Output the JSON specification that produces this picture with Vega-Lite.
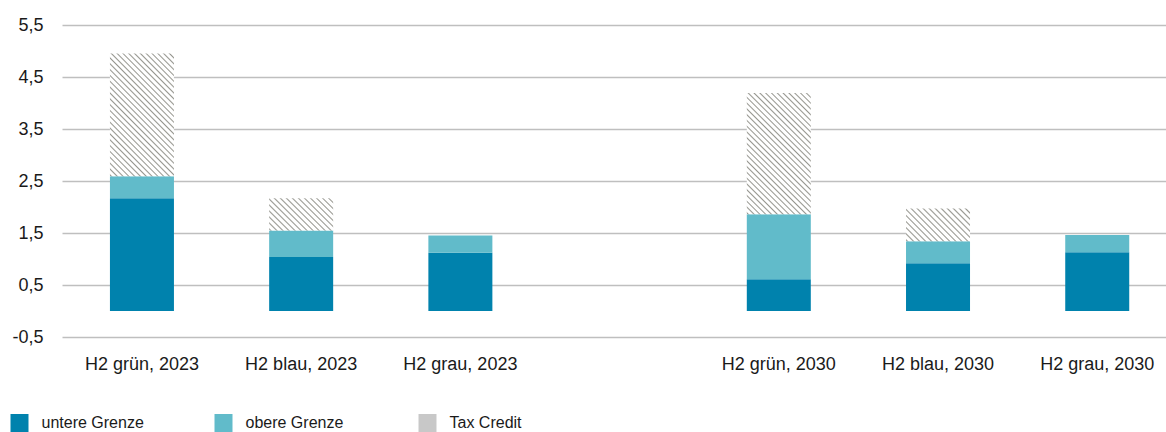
{
  "$schema": "https://vega.github.io/schema/vega-lite/v6.json",
  "autosize": {"type": "none"},
  "padding": {"left": 62, "top": 25, "right": 0, "bottom": 95},
  "width": 1104,
  "height": 312,
  "config": {
    "font": "Liberation Sans",
    "view": {"stroke": null},
    "legend": {"padding": 0, "offset": 0}
  },
  "data": {
    "values": [
      {"kategorie": "H2 grün, 2023", "untere": 2.17, "obere": 2.59, "gesamt": 4.95},
      {"kategorie": "H2 blau, 2023", "untere": 1.04, "obere": 1.55, "gesamt": 2.17},
      {"kategorie": "H2 grau, 2023", "untere": 1.12, "obere": 1.45, "gesamt": null},
      {"kategorie": "H2 grün, 2030", "untere": 0.61, "obere": 1.86, "gesamt": 4.19},
      {"kategorie": "H2 blau, 2030", "untere": 0.92, "obere": 1.34, "gesamt": 1.97},
      {"kategorie": "H2 grau, 2030", "untere": 1.13, "obere": 1.46, "gesamt": null}
    ]
  },
  "encoding": {
    "x": {
      "field": "kategorie",
      "type": "nominal",
      "sort": null,
      "scale": {
        "domain": ["H2 grün, 2023", "H2 blau, 2023", "H2 grau, 2023", " ", "H2 grün, 2030", "H2 blau, 2030", "H2 grau, 2030"],
        "paddingInner": 0.598,
        "paddingOuter": 0.266,
        "align": 0.566
      },
      "axis": {
        "title": null,
        "labelAngle": 0,
        "labelFontSize": 18,
        "labelColor": "#1a1a1a",
        "labelPadding": 18,
        "ticks": false,
        "domain": false,
        "grid": false
      }
    }
  },
  "layer": [
    {
      "mark": {"type": "bar"},
      "encoding": {
        "y": {
          "field": "untere",
          "type": "quantitative",
          "scale": {"domain": [-0.5, 5.5], "nice": false, "zero": false},
          "axis": {
            "title": null,
            "values": [-0.5, 0.5, 1.5, 2.5, 3.5, 4.5, 5.5],
            "labelExpr": "(datum.value < 0 ? '-' : '') + replace(format(abs(datum.value), '.1f'), '.', ',')",
            "labelFontSize": 18,
            "labelColor": "#1a1a1a",
            "labelPadding": 19,
            "ticks": false,
            "domain": false,
            "grid": true,
            "gridColor": "#bfbfbf",
            "gridWidth": 1.5
          }
        },
        "y2": {"datum": 0},
        "color": {
          "datum": "untere Grenze",
          "type": "nominal",
          "scale": {
            "domain": ["untere Grenze", "obere Grenze", "Tax Credit"],
            "range": ["#0082ad", "#61bbca", "#c8c8c8"]
          },
          "legend": {
            "title": null,
            "orient": "none",
            "direction": "horizontal",
            "legendX": -51.5,
            "legendY": 389,
            "symbolType": "square",
            "symbolSize": 324,
            "symbolStrokeWidth": 0,
            "labelFont": "Liberation Sans",
            "labelFontSize": 16,
            "labelColor": "#1a1a1a",
            "labelOffset": 13,
            "gridAlign": "all",
            "columnPadding": 70,
            "encode": {
              "symbols": {
                "update": {
                  "fill": [
                    {
                      "test": "datum.label === 'Tax Credit'",
                      "value": {
                        "gradient": "linear", "x1": 0, "y1": 1, "x2": 1, "y2": 0,
                        "stops": [
                          {"offset": 0, "color": "#ffffff"}, {"offset": 0.05, "color": "#a8a8a8"}, {"offset": 0.1, "color": "#ffffff"},
                          {"offset": 0.2, "color": "#ffffff"}, {"offset": 0.25, "color": "#a8a8a8"}, {"offset": 0.3, "color": "#ffffff"},
                          {"offset": 0.4, "color": "#ffffff"}, {"offset": 0.45, "color": "#a8a8a8"}, {"offset": 0.5, "color": "#ffffff"},
                          {"offset": 0.6, "color": "#ffffff"}, {"offset": 0.65, "color": "#a8a8a8"}, {"offset": 0.7, "color": "#ffffff"},
                          {"offset": 0.8, "color": "#ffffff"}, {"offset": 0.85, "color": "#a8a8a8"}, {"offset": 0.9, "color": "#ffffff"},
                          {"offset": 1, "color": "#ffffff"}
                        ]
                      }
                    },
                    {"scale": "color", "field": "value"}
                  ]
                }
              }
            }
          }
        }
      }
    },
    {
      "mark": {"type": "bar"},
      "encoding": {
        "y": {"field": "obere", "type": "quantitative"},
        "y2": {"field": "untere"},
        "color": {"datum": "obere Grenze", "type": "nominal"}
      }
    },
    {
      "mark": {"type": "bar"},
      "encoding": {
        "y": {"field": "gesamt", "type": "quantitative"},
        "y2": {"field": "obere"},
        "color": {
          "datum": "Tax Credit",
          "type": "nominal",
          "condition": [
            {
              "test": "datum.gesamt - datum.obere > 1",
              "value": {
                "gradient": "linear", "x1": 0, "y1": 1, "x2": 0.6276, "y2": -0.1955,
                "stops": [
                  {"offset": 0, "color": "#ffffff"}, {"offset": 0.0078, "color": "#96968f"}, {"offset": 0.0156, "color": "#ffffff"},
                  {"offset": 0.0313, "color": "#ffffff"}, {"offset": 0.0391, "color": "#96968f"}, {"offset": 0.0469, "color": "#ffffff"},
                  {"offset": 0.0625, "color": "#ffffff"}, {"offset": 0.0703, "color": "#96968f"}, {"offset": 0.0781, "color": "#ffffff"},
                  {"offset": 0.0938, "color": "#ffffff"}, {"offset": 0.1016, "color": "#96968f"}, {"offset": 0.1094, "color": "#ffffff"},
                  {"offset": 0.125, "color": "#ffffff"}, {"offset": 0.1328, "color": "#96968f"}, {"offset": 0.1406, "color": "#ffffff"},
                  {"offset": 0.1563, "color": "#ffffff"}, {"offset": 0.1641, "color": "#96968f"}, {"offset": 0.1719, "color": "#ffffff"},
                  {"offset": 0.1875, "color": "#ffffff"}, {"offset": 0.1953, "color": "#96968f"}, {"offset": 0.2031, "color": "#ffffff"},
                  {"offset": 0.2188, "color": "#ffffff"}, {"offset": 0.2266, "color": "#96968f"}, {"offset": 0.2344, "color": "#ffffff"},
                  {"offset": 0.25, "color": "#ffffff"}, {"offset": 0.2578, "color": "#96968f"}, {"offset": 0.2656, "color": "#ffffff"},
                  {"offset": 0.2813, "color": "#ffffff"}, {"offset": 0.2891, "color": "#96968f"}, {"offset": 0.2969, "color": "#ffffff"},
                  {"offset": 0.3125, "color": "#ffffff"}, {"offset": 0.3203, "color": "#96968f"}, {"offset": 0.3281, "color": "#ffffff"},
                  {"offset": 0.3438, "color": "#ffffff"}, {"offset": 0.3516, "color": "#96968f"}, {"offset": 0.3594, "color": "#ffffff"},
                  {"offset": 0.375, "color": "#ffffff"}, {"offset": 0.3828, "color": "#96968f"}, {"offset": 0.3906, "color": "#ffffff"},
                  {"offset": 0.4063, "color": "#ffffff"}, {"offset": 0.4141, "color": "#96968f"}, {"offset": 0.4219, "color": "#ffffff"},
                  {"offset": 0.4375, "color": "#ffffff"}, {"offset": 0.4453, "color": "#96968f"}, {"offset": 0.4531, "color": "#ffffff"},
                  {"offset": 0.4688, "color": "#ffffff"}, {"offset": 0.4766, "color": "#96968f"}, {"offset": 0.4844, "color": "#ffffff"},
                  {"offset": 0.5, "color": "#ffffff"}, {"offset": 0.5078, "color": "#96968f"}, {"offset": 0.5156, "color": "#ffffff"},
                  {"offset": 0.5313, "color": "#ffffff"}, {"offset": 0.5391, "color": "#96968f"}, {"offset": 0.5469, "color": "#ffffff"},
                  {"offset": 0.5625, "color": "#ffffff"}, {"offset": 0.5703, "color": "#96968f"}, {"offset": 0.5781, "color": "#ffffff"},
                  {"offset": 0.5938, "color": "#ffffff"}, {"offset": 0.6016, "color": "#96968f"}, {"offset": 0.6094, "color": "#ffffff"},
                  {"offset": 0.625, "color": "#ffffff"}, {"offset": 0.6328, "color": "#96968f"}, {"offset": 0.6406, "color": "#ffffff"},
                  {"offset": 0.6563, "color": "#ffffff"}, {"offset": 0.6641, "color": "#96968f"}, {"offset": 0.6719, "color": "#ffffff"},
                  {"offset": 0.6875, "color": "#ffffff"}, {"offset": 0.6953, "color": "#96968f"}, {"offset": 0.7031, "color": "#ffffff"},
                  {"offset": 0.7188, "color": "#ffffff"}, {"offset": 0.7266, "color": "#96968f"}, {"offset": 0.7344, "color": "#ffffff"},
                  {"offset": 0.75, "color": "#ffffff"}, {"offset": 0.7578, "color": "#96968f"}, {"offset": 0.7656, "color": "#ffffff"},
                  {"offset": 0.7813, "color": "#ffffff"}, {"offset": 0.7891, "color": "#96968f"}, {"offset": 0.7969, "color": "#ffffff"},
                  {"offset": 0.8125, "color": "#ffffff"}, {"offset": 0.8203, "color": "#96968f"}, {"offset": 0.8281, "color": "#ffffff"},
                  {"offset": 0.8438, "color": "#ffffff"}, {"offset": 0.8516, "color": "#96968f"}, {"offset": 0.8594, "color": "#ffffff"},
                  {"offset": 0.875, "color": "#ffffff"}, {"offset": 0.8828, "color": "#96968f"}, {"offset": 0.8906, "color": "#ffffff"},
                  {"offset": 0.9063, "color": "#ffffff"}, {"offset": 0.9141, "color": "#96968f"}, {"offset": 0.9219, "color": "#ffffff"},
                  {"offset": 0.9375, "color": "#ffffff"}, {"offset": 0.9453, "color": "#96968f"}, {"offset": 0.9531, "color": "#ffffff"},
                  {"offset": 0.9688, "color": "#ffffff"}, {"offset": 0.9766, "color": "#96968f"}, {"offset": 0.9844, "color": "#ffffff"},
                  {"offset": 1, "color": "#ffffff"}
                ]
              }
            },
            {
              "test": "datum.gesamt - datum.obere <= 1",
              "value": {
                "gradient": "linear", "x1": 0, "y1": 1, "x2": 1.199, "y2": 0.391,
                "stops": [
                  {"offset": 0, "color": "#ffffff"}, {"offset": 0.0156, "color": "#96968f"}, {"offset": 0.0313, "color": "#ffffff"},
                  {"offset": 0.0625, "color": "#ffffff"}, {"offset": 0.0781, "color": "#96968f"}, {"offset": 0.0938, "color": "#ffffff"},
                  {"offset": 0.125, "color": "#ffffff"}, {"offset": 0.1406, "color": "#96968f"}, {"offset": 0.1563, "color": "#ffffff"},
                  {"offset": 0.1875, "color": "#ffffff"}, {"offset": 0.2031, "color": "#96968f"}, {"offset": 0.2188, "color": "#ffffff"},
                  {"offset": 0.25, "color": "#ffffff"}, {"offset": 0.2656, "color": "#96968f"}, {"offset": 0.2813, "color": "#ffffff"},
                  {"offset": 0.3125, "color": "#ffffff"}, {"offset": 0.3281, "color": "#96968f"}, {"offset": 0.3438, "color": "#ffffff"},
                  {"offset": 0.375, "color": "#ffffff"}, {"offset": 0.3906, "color": "#96968f"}, {"offset": 0.4063, "color": "#ffffff"},
                  {"offset": 0.4375, "color": "#ffffff"}, {"offset": 0.4531, "color": "#96968f"}, {"offset": 0.4688, "color": "#ffffff"},
                  {"offset": 0.5, "color": "#ffffff"}, {"offset": 0.5156, "color": "#96968f"}, {"offset": 0.5313, "color": "#ffffff"},
                  {"offset": 0.5625, "color": "#ffffff"}, {"offset": 0.5781, "color": "#96968f"}, {"offset": 0.5938, "color": "#ffffff"},
                  {"offset": 0.625, "color": "#ffffff"}, {"offset": 0.6406, "color": "#96968f"}, {"offset": 0.6563, "color": "#ffffff"},
                  {"offset": 0.6875, "color": "#ffffff"}, {"offset": 0.7031, "color": "#96968f"}, {"offset": 0.7188, "color": "#ffffff"},
                  {"offset": 0.75, "color": "#ffffff"}, {"offset": 0.7656, "color": "#96968f"}, {"offset": 0.7813, "color": "#ffffff"},
                  {"offset": 0.8125, "color": "#ffffff"}, {"offset": 0.8281, "color": "#96968f"}, {"offset": 0.8438, "color": "#ffffff"},
                  {"offset": 0.875, "color": "#ffffff"}, {"offset": 0.8906, "color": "#96968f"}, {"offset": 0.9063, "color": "#ffffff"},
                  {"offset": 0.9375, "color": "#ffffff"}, {"offset": 0.9531, "color": "#96968f"}, {"offset": 0.9688, "color": "#ffffff"},
                  {"offset": 1, "color": "#ffffff"}
                ]
              }
            }
          ]
        }
      }
    },
    {
      "mark": {"type": "rule", "color": "#000000", "strokeWidth": 1.5},
      "encoding": {"y": {"datum": 0}}
    }
  ]
}
